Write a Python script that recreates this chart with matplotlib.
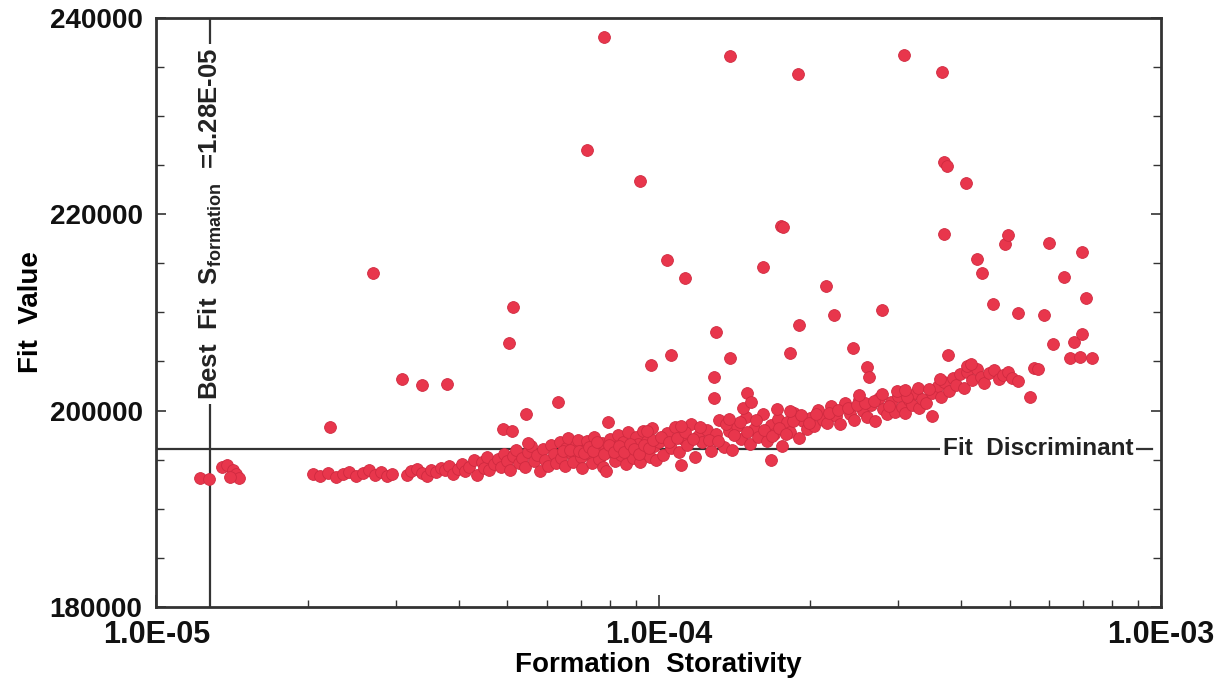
import matplotlib.pyplot as plt
from matplotlib.ticker import LogLocator, MultipleLocator, NullFormatter

# --- values ---
# dense band of fit results (formation storativity, fit value)
stor_band = [
    2.05e-5, 2.12e-5, 2.2e-5, 2.28e-5, 2.35e-5, 2.42e-5, 2.5e-5, 2.58e-5, 2.65e-5,
    2.72e-5, 2.8e-5, 2.88e-5, 2.95e-5,
    3.15e-5, 3.22e-5, 3.3e-5, 3.38e-5, 3.45e-5, 3.52e-5, 3.6e-5, 3.68e-5, 3.75e-5,
    3.83e-5, 3.9e-5, 3.98e-5, 4.05e-5, 4.12e-5, 4.2e-5, 4.28e-5, 4.35e-5,
    4.45e-5, 4.5e-5, 4.55e-5, 4.6e-5, 4.7e-5, 4.78e-5, 4.85e-5, 4.92e-5, 5.0e-5,
    5.05e-5, 5.12e-5, 5.2e-5, 5.27e-5, 5.35e-5, 5.42e-5, 5.5e-5, 5.58e-5, 5.65e-5,
    5.72e-5, 5.8e-5, 5.88e-5, 5.95e-5, 6.02e-5, 6.1e-5, 6.18e-5, 6.25e-5,
    6.35e-5, 6.4e-5, 6.5e-5, 6.55e-5, 6.6e-5, 6.7e-5, 6.75e-5, 6.85e-5, 6.9e-5,
    7.0e-5, 7.05e-5, 7.15e-5, 7.2e-5, 7.3e-5, 7.35e-5, 7.45e-5, 7.5e-5, 7.6e-5,
    7.7e-5, 7.75e-5, 7.85e-5, 7.9e-5, 8.0e-5, 8.1e-5, 8.2e-5, 8.3e-5, 8.4e-5,
    8.5e-5, 8.6e-5, 8.7e-5, 8.8e-5, 8.9e-5, 9.0e-5, 9.1e-5, 9.2e-5, 9.3e-5,
    9.4e-5, 9.5e-5, 9.6e-5, 9.7e-5, 9.8e-5, 9.9e-5,
    1.0e-4, 1.02e-4, 1.04e-4, 1.06e-4, 1.08e-4, 1.1e-4, 1.12e-4, 1.14e-4, 1.16e-4,
    1.18e-4, 1.2e-4, 1.22e-4, 1.25e-4, 1.27e-4, 1.3e-4, 1.32e-4, 1.35e-4, 1.38e-4,
    1.4e-4, 1.43e-4, 1.46e-4, 1.49e-4, 1.52e-4, 1.55e-4, 1.58e-4, 1.61e-4, 1.64e-4,
    1.67e-4, 1.7e-4, 1.73e-4, 1.76e-4, 1.8e-4, 1.83e-4, 1.86e-4, 1.9e-4, 1.94e-4,
    1.97e-4,
    2.0e-4, 2.04e-4, 2.08e-4, 2.12e-4, 2.16e-4, 2.2e-4, 2.25e-4, 2.3e-4, 2.35e-4,
    2.4e-4, 2.45e-4, 2.5e-4, 2.55e-4, 2.6e-4, 2.65e-4, 2.7e-4, 2.75e-4, 2.8e-4,
    2.85e-4, 2.9e-4, 2.95e-4, 3.0e-4, 3.05e-4, 3.1e-4, 3.15e-4, 3.2e-4, 3.25e-4,
    3.3e-4, 3.35e-4, 3.4e-4,
    3.5e-4, 3.6e-4, 3.65e-4, 3.7e-4, 3.78e-4, 3.85e-4, 3.9e-4, 3.98e-4, 4.05e-4,
    4.12e-4, 4.2e-4, 4.3e-4, 4.38e-4, 4.45e-4, 4.55e-4, 4.65e-4, 4.75e-4, 4.85e-4,
    4.95e-4, 5.05e-4, 5.2e-4,
]
fit_band = [
    193500, 193300, 193600, 193200, 193500, 193700, 193300, 193600, 193900,
    193400, 193700, 193300, 193500,
    193400, 193800, 194100, 193600, 193300, 194000, 193700, 194200, 193900,
    194400, 193500, 194100, 194600, 193800, 194300, 195000, 193400,
    194800, 194200, 195300, 193900, 194600, 195100, 194300, 195600, 194900,
    194000, 195400, 196000, 194700, 195200, 194300, 195800, 196400, 194900,
    195500, 193800, 196100, 195000, 194400, 196500, 195600, 194700,
    196800, 195200, 194400, 196200, 197200, 195700, 194800, 196500, 197000,
    195300, 194200, 196000, 196900, 195600, 194700, 197300, 196200, 195100,
    196700, 194300, 193800, 195800, 197100, 196300, 194900, 197500, 195500,
    196800, 194600, 197800, 196000, 195200, 197300, 196600, 194800, 197900,
    195700, 196900, 195300, 198200, 196400, 195000,
    196800, 195500, 197700, 196200, 198300, 195800, 197100, 196500, 198600,
    195300, 197400, 196800, 198000, 195900, 197600, 199000, 196300, 197900,
    196000, 198400, 197100, 199300, 196600, 198100, 197300, 199600, 196900,
    198500, 197600, 199100, 196400, 198800, 197800, 199800, 197200, 198900,
    198100,
    199200, 198400, 200100, 199000, 198700, 200500, 199400, 198600, 200800,
    199700, 199000, 201100, 200000, 199300, 200600, 198900, 201300, 200200,
    199600, 200900, 199900, 201500, 200400, 199800, 201100, 200600, 201800,
    200300, 201200, 200800,
    201800, 202500, 201400, 202900, 202000, 203300, 202600, 203700, 202300,
    203900, 203100, 204200, 203400, 202800, 203800, 204100, 203200, 203600,
    203900, 203300, 203000,
]

# second, overlapping row inside the band
stor_band_mid = [
    6.45e-5, 6.65e-5, 6.95e-5, 7.1e-5, 7.25e-5, 7.4e-5, 7.55e-5, 7.8e-5, 7.95e-5,
    8.15e-5, 8.35e-5, 8.55e-5, 8.75e-5, 8.95e-5, 9.15e-5, 9.35e-5, 9.55e-5, 9.75e-5,
    1.01e-4, 1.05e-4, 1.09e-4, 1.13e-4, 1.17e-4, 1.21e-4, 1.26e-4, 1.31e-4, 1.36e-4,
    1.41e-4, 1.45e-4, 1.5e-4, 1.56e-4, 1.62e-4, 1.68e-4, 1.74e-4, 1.79e-4, 1.85e-4,
    1.92e-4, 1.99e-4,
    2.06e-4, 2.18e-4, 2.28e-4, 2.38e-4, 2.48e-4, 2.58e-4, 2.68e-4, 2.78e-4, 2.88e-4,
    2.98e-4, 3.12e-4, 3.28e-4, 3.45e-4,
]
fit_band_mid = [
    195900, 196000, 195900, 195700, 196300, 195900, 196800, 195600, 196500,
    195800, 196400, 195800, 196600, 196100, 195600, 196500, 196200, 197000,
    197300, 196800, 197200, 197800, 197100, 198300, 197000, 196900, 198600,
    197500, 198800, 197800, 199000, 198000, 197400, 198200, 197600, 198900,
    199500, 198700,
    199700, 199800, 200100, 200300, 200600, 200800, 201000, 201700, 200500,
    202000, 201400, 202300, 202200,
]

# points near the best fit and the scattered higher fits
stor_other = [
    1.22e-5, 1.27e-5, 1.35e-5, 1.38e-5, 1.42e-5, 1.44e-5, 1.46e-5, 1.4e-5,
    2.22e-5, 2.7e-5, 3.08e-5, 3.38e-5, 3.79e-5,
    4.9e-5, 5.1e-5, 5.03e-5, 5.14e-5, 5.44e-5, 5.5e-5, 6.29e-5,
    7.2e-5, 7.77e-5, 9.2e-5, 7.91e-5, 9.46e-5, 9.67e-5,
    1.04e-4, 1.13e-4, 1.06e-4, 1.11e-4, 1.29e-4, 1.29e-4, 1.3e-4, 1.39e-4, 1.39e-4,
    1.38e-4, 1.47e-4, 1.5e-4, 1.53e-4, 1.61e-4, 1.72e-4, 1.83e-4, 1.75e-4, 1.77e-4,
    1.83e-4, 1.89e-4, 1.9e-4, 2.15e-4, 2.23e-4, 2.44e-4, 2.5e-4, 2.6e-4, 2.62e-4,
    2.79e-4, 3.08e-4, 3.1e-4, 3.5e-4, 3.63e-4, 3.66e-4, 3.7e-4, 3.75e-4, 3.7e-4,
    3.76e-4, 4.1e-4, 4.12e-4, 4.18e-4, 4.3e-4, 4.4e-4, 4.63e-4, 4.9e-4, 4.97e-4,
    5.2e-4, 5.5e-4, 5.58e-4, 5.7e-4, 5.85e-4, 6.0e-4, 6.1e-4, 6.4e-4, 6.6e-4,
    6.7e-4, 6.9e-4, 6.98e-4, 6.98e-4, 7.1e-4, 7.3e-4,
    1.67e-4, 1.11e-4,
]
fit_other = [
    193100, 193050, 194300, 194500, 194000, 193500, 193100, 193200,
    198300, 214000, 203200, 202600, 202700,
    198100, 197900, 206900, 210500, 199700, 196700, 200900,
    226500, 238000, 223400, 198800, 197900, 204600,
    215300, 213500, 205700, 198400, 203400, 201300, 208000, 236100, 205400,
    199100, 200300, 201800, 200900, 214600, 200200, 200000, 218800, 218700,
    205900, 234300, 208700, 212700, 209700, 206400, 201600, 204400, 203400,
    210200, 236200, 202100, 199400, 203200, 234500, 225300, 224900, 218000,
    205700, 223200, 204500, 204700, 215400, 214000, 210800, 217000, 217900,
    209900, 201400, 204300, 204200, 209700, 217100, 206800, 213600, 205400,
    207000, 205500, 207800, 216100, 211500, 205400,
    195000, 194500,
]

best_fit = 1.28e-5
fit_discriminant = 196100
x_ticks = [1e-5, 1e-4, 1e-3]
x_tick_labels = ['1.0E-05', '1.0E-04', '1.0E-03']
y_ticks = [180000, 200000, 220000, 240000]

plt.rcParams['font.family'] = ['Liberation Sans', 'DejaVu Sans']
plt.rcParams['mathtext.fontset'] = 'custom'
plt.rcParams['mathtext.rm'] = 'Liberation Sans:bold'
plt.rcParams['mathtext.it'] = 'Liberation Sans:bold'

dark = '#333333'
red = '#e8364c'

fig = plt.figure(figsize=(12.22, 6.79), dpi=100)
ax = fig.add_axes([0.128, 0.106, 0.822, 0.868])

for xs, ys in [(stor_band, fit_band), (stor_band_mid, fit_band_mid), (stor_other, fit_other)]:
    ax.plot(xs, ys, 'o', ms=8.5, color=red, mec='#d02a40', mew=0.6, zorder=3)

ax.set_xscale('log')
ax.set_xlim(1e-5, 1e-3)
ax.set_ylim(180000, 240000)

# fit discriminant line with its label
ax.plot([1e-5, 9.6e-4], [fit_discriminant, fit_discriminant], color=dark, lw=1.6, zorder=2)
ax.text(3.68e-4, fit_discriminant, 'Fit  Discriminant', fontsize=17.5, fontweight='bold',
        color='#222222', ha='left', va='center', zorder=4,
        bbox=dict(facecolor='white', edgecolor='none', pad=2))

# best fit line with rotated label
ax.plot([best_fit, best_fit], [180000, 239900], color=dark, lw=1.6, zorder=2)
ax.text(best_fit, 219000, 'Best  Fit  $\\mathrm{S}_{\\mathrm{formation}}$  =1.28E-05',
        fontsize=18.5, fontweight='bold', color='#222222', rotation=90,
        ha='center', va='center', zorder=4,
        bbox=dict(facecolor='white', edgecolor='none', pad=3))

ax.set_xticks(x_ticks)
ax.set_xticklabels(x_tick_labels)
ax.xaxis.set_minor_locator(LogLocator(base=10, subs=range(2, 10)))
ax.xaxis.set_minor_formatter(NullFormatter())
ax.set_yticks(y_ticks)
ax.yaxis.set_minor_locator(MultipleLocator(5000))

ax.tick_params(axis='both', which='both', direction='in', colors=dark,
               top=False, right=True, labelcolor='#111111')
ax.tick_params(axis='x', which='major', length=9, width=1.2, labelsize=22, pad=9)
ax.tick_params(axis='x', which='minor', length=5, width=1.0)
ax.tick_params(axis='y', which='major', length=7, width=1.2, labelsize=20, pad=10)
ax.tick_params(axis='y', which='minor', length=6, width=1.0)
for lab in ax.get_yticklabels() + ax.get_xticklabels():
    lab.set_fontweight('bold')

for sp in ax.spines.values():
    sp.set_color(dark)
    sp.set_linewidth(2)

ax.set_xlabel('Formation  Storativity', fontsize=20, fontweight='bold', labelpad=2)
ax.set_ylabel('Fit  Value', fontsize=20, fontweight='bold', labelpad=4)

fig.savefig('out.png', dpi=100)
